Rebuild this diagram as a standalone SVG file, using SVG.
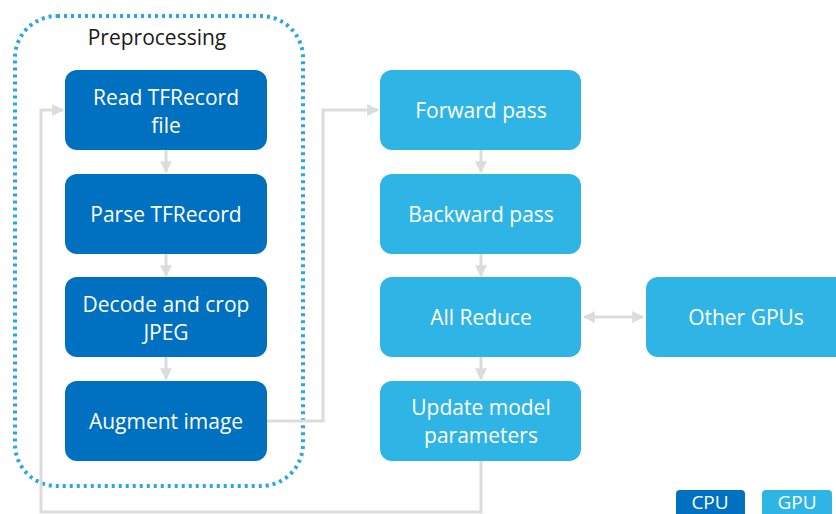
<svg xmlns="http://www.w3.org/2000/svg" width="836" height="514" viewBox="0 0 836 514">
<style>
text{font-family:"Open Sans","Noto Sans","Liberation Sans",sans-serif;font-size:21px;text-anchor:middle;fill:#fff}
.cpu{fill:#0070c0}
.gpu{fill:#2fb4e6}
.c{fill:none;stroke:#dcdcdc;stroke-width:3}
.t{fill:#1a1a1a}
.lg{font-size:19px}
</style>
<defs>
<marker id="ah" viewBox="0 0 10 10" refX="9" refY="5" markerWidth="4" markerHeight="4" orient="auto-start-reverse">
<path d="M0,0 L10,5 L0,10 z" fill="#dcdcdc"/>
</marker>
</defs>
<rect x="15" y="16" width="288" height="470" rx="42" fill="none" stroke="#2aa7e0" stroke-width="4" stroke-dasharray="3 4"/>
<text class="t" x="157" y="45">Preprocessing</text>
<g id="connectors">
<line class="c" x1="166" y1="150" x2="166" y2="172" marker-end="url(#ah)"/>
<line class="c" x1="166" y1="254" x2="166" y2="276" marker-end="url(#ah)"/>
<line class="c" x1="166" y1="357" x2="166" y2="379" marker-end="url(#ah)"/>
<line class="c" x1="481" y1="150" x2="481" y2="172" marker-end="url(#ah)"/>
<line class="c" x1="481" y1="254" x2="481" y2="276" marker-end="url(#ah)"/>
<line class="c" x1="481" y1="357" x2="481" y2="379" marker-end="url(#ah)"/>
<line class="c" x1="584" y1="317" x2="643" y2="317" marker-start="url(#ah)" marker-end="url(#ah)"/>
<polyline class="c" points="267,421 323,421 323,110 378,110" marker-end="url(#ah)"/>
<polyline class="c" points="481,461 481,512 41,512 41,110 63,110" marker-end="url(#ah)"/>
</g>
<g id="read"><rect class="cpu" x="65" y="70" width="202" height="80" rx="12"/><text x="166" y="105">Read TFRecord</text><text x="166" y="133">file</text></g>
<g id="parse"><rect class="cpu" x="65" y="174" width="202" height="80" rx="12"/><text x="166" y="222">Parse TFRecord</text></g>
<g id="decode"><rect class="cpu" x="65" y="277" width="202" height="80" rx="12"/><text x="166" y="312">Decode and crop</text><text x="166" y="340">JPEG</text></g>
<g id="augment"><rect class="cpu" x="65" y="381" width="202" height="80" rx="12"/><text x="166" y="429">Augment image</text></g>
<g id="forward"><rect class="gpu" x="380" y="70" width="201" height="80" rx="12"/><text x="481" y="118">Forward pass</text></g>
<g id="backward"><rect class="gpu" x="380" y="174" width="201" height="80" rx="12"/><text x="481" y="222">Backward pass</text></g>
<g id="allreduce"><rect class="gpu" x="380" y="277" width="201" height="80" rx="12"/><text x="481" y="325">All Reduce</text></g>
<g id="update"><rect class="gpu" x="380" y="381" width="201" height="80" rx="12"/><text x="481" y="415">Update model</text><text x="481" y="443">parameters</text></g>
<g id="other"><rect class="gpu" x="646" y="277" width="202" height="80" rx="12"/><text x="746" y="325">Other GPUs</text></g>
<g id="legend-cpu"><rect class="cpu" x="676" y="490" width="69" height="30" rx="4"/><text class="lg" x="710" y="509">CPU</text></g>
<g id="legend-gpu"><rect class="gpu" x="762" y="490" width="70" height="30" rx="4"/><text class="lg" x="797" y="509">GPU</text></g>
</svg>
